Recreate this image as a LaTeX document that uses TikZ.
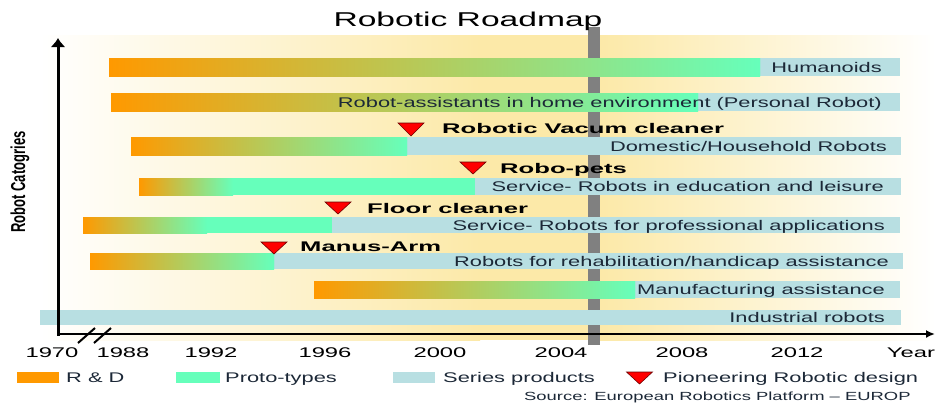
\documentclass[tikz,border=0pt]{standalone}
\usepackage{fontspec}
\setmainfont{Liberation Sans}
\newfontfamily\lblf[FakeStretch=1.56]{Liberation Sans}
\newfontfamily\bldf[FakeStretch=1.83]{Liberation Sans}
\newfontfamily\yrf[FakeStretch=1.7]{Liberation Sans}
\newfontfamily\ttlf[FakeStretch=1.68]{Liberation Sans}
\usetikzlibrary{arrows.meta}
\definecolor{rd}{RGB}{255,153,0}
\definecolor{rdmid}{RGB}{218,196,118}
\definecolor{proto}{RGB}{102,255,187}
\definecolor{series}{RGB}{184,223,226}
\definecolor{bgy}{RGB}{252,233,168}
\definecolor{barg}{RGB}{128,128,128}
\definecolor{labc}{RGB}{28,40,55}
\definecolor{tred}{RGB}{255,0,0}
\definecolor{tredd}{RGB}{110,0,0}
\tikzset{
  lab/.style={anchor=base east, inner sep=0pt, text=labc, font=\lblf\fontsize{14}{16}\selectfont},
  blab/.style={anchor=base west, inner sep=0pt, text=black, font=\bldf\bfseries\fontsize{14}{16}\selectfont},
  yr/.style={anchor=base, inner sep=0pt, text=black, font=\yrf\fontsize{14}{16}\selectfont},
  leg/.style={anchor=base west, inner sep=0pt, text=labc, font=\lblf\fontsize{14}{16}\selectfont},
  pioneer/.style={fill=tred, draw=tredd, line width=0.6pt, line join=miter},
  rdgrad/.style={left color=rd, middle color=rdmid, right color=proto},
}
\newcommand\rbar[6]{%
  \fill[series] (#3,#5) rectangle (#4,#6);
  \shade[rdgrad] (#1,#5) rectangle (#2,#6);
  \fill[proto] (#2,#5) rectangle (#3,#6);
}
\newcommand\ptri[3]{%
  \draw[pioneer] ({#1-13},#2) -- ({#1+13},#2) -- (#1,#3) -- cycle;
}
\begin{document}
\begin{tikzpicture}[x=1pt,y=-1pt]
\useasboundingbox (0,0) rectangle (939,405);
% background
\shade[left color=white, right color=bgy] (40,35) rectangle (480,340);
\fill[bgy] (479,35) rectangle (601,340);
\shade[left color=bgy, right color=white] (600,35) rectangle (935,340);
% year marker
\fill[barg] (588,27) rectangle (600,345);
% title
\node[anchor=base, inner sep=0pt, font=\ttlf\fontsize{20}{22}\selectfont] (title) at (468,26) {Robotic Roadmap};
% bars
\rbar{109}{760}{760}{900}{58}{76}
\rbar{111}{698}{698}{900}{93}{111}
\rbar{131}{407}{407}{901}{137}{155}
\rbar{139}{233}{475}{901}{178}{195}
\rbar{83}{207}{332}{900}{217}{233}
\rbar{90}{274}{274}{903}{253}{269}
\rbar{314}{635}{635}{900}{281}{298}
\fill[series] (40,310) rectangle (901,325);
% bar labels
\node[lab] (l1) at (882,72) {Humanoids};
\node[lab] (l2) at (882,107) {Robot-assistants in home environment (Personal Robot)};
\node[lab] (l3) at (887,151) {Domestic/Household Robots};
\node[lab] (l4) at (884,191.5) {Service- Robots in education and leisure};
\node[lab] (l5) at (885,230) {Service- Robots for professional applications};
\node[lab] (l6) at (889,266) {Robots for rehabilitation/handicap assistance};
\node[lab] (l7) at (885,294.5) {Manufacturing assistance};
\node[lab] (l8) at (885,322.5) {Industrial robots};
% pioneering designs
\ptri{411}{123}{136}
\node[blab] (p1) at (442,133) {Robotic Vacum cleaner};
\ptri{473}{162}{174}
\node[blab] (p2) at (500,173) {Robo-pets};
\ptri{338}{202}{214}
\node[blab] (p3) at (367,213) {Floor cleaner};
\ptri{274}{242}{254}
\node[blab] (p4) at (300,251) {Manus-Arm};
% axes
\coordinate (o) at (58,334);
\coordinate (ytop) at (58,38);
\coordinate (xend) at (935,334);
\draw[line width=3pt, -{Latex[length=9pt,width=15pt]}] ([yshift=-1.5pt]o) -- (ytop);
\draw[line width=2pt, -{Latex[length=9pt,width=8pt]}] (o) -- (xend);
\coordinate (b1) at (78,343); \coordinate (b1e) at (95,328);
\coordinate (b2) at (94,343); \coordinate (b2e) at (111,328);
\draw[line width=2pt] (b1) -- (b1e);
\draw[line width=2pt] (b2) -- (b2e);
% axis label
\node[rotate=90, inner sep=0pt, font=\bfseries\fontsize{13}{15}\selectfont] (ylab) at (20,182) {\scalebox{1}[1.55]{Robot Catogries}};
% years
\node[yr] (y70) at (52,357) {1970};
\node[yr] (y88) at (123,357) {1988};
\node[yr] (y92) at (211,357) {1992};
\node[yr] (y96) at (325,357) {1996};
\node[yr] (y00) at (440,357) {2000};
\node[yr] (y04) at (561,357) {2004};
\node[yr] (y08) at (682,357) {2008};
\node[yr] (y12) at (797,357) {2012};
\node[yr] (yy) at (911,357) {Year};
% legend
\fill[rd] (17,372) rectangle (59,383);
\node[leg] (g1) at (66,382) {R \& D};
\fill[proto] (176,372) rectangle (220,383);
\node[leg] (g2) at (225,382) {Proto-types};
\fill[series] (393,372) rectangle (435,383);
\node[leg] (g3) at (443,382) {Series products};
\ptri{639.5}{372}{384}
\node[leg] (g4) at (663,382) {Pioneering Robotic design};
\node[anchor=base west, inner sep=0pt, text=labc, font=\lblf\fontsize{11.8}{13}\selectfont] (src) at (524,400) {Source: European Robotics Platform – EUROP};
\end{tikzpicture}
\end{document}
